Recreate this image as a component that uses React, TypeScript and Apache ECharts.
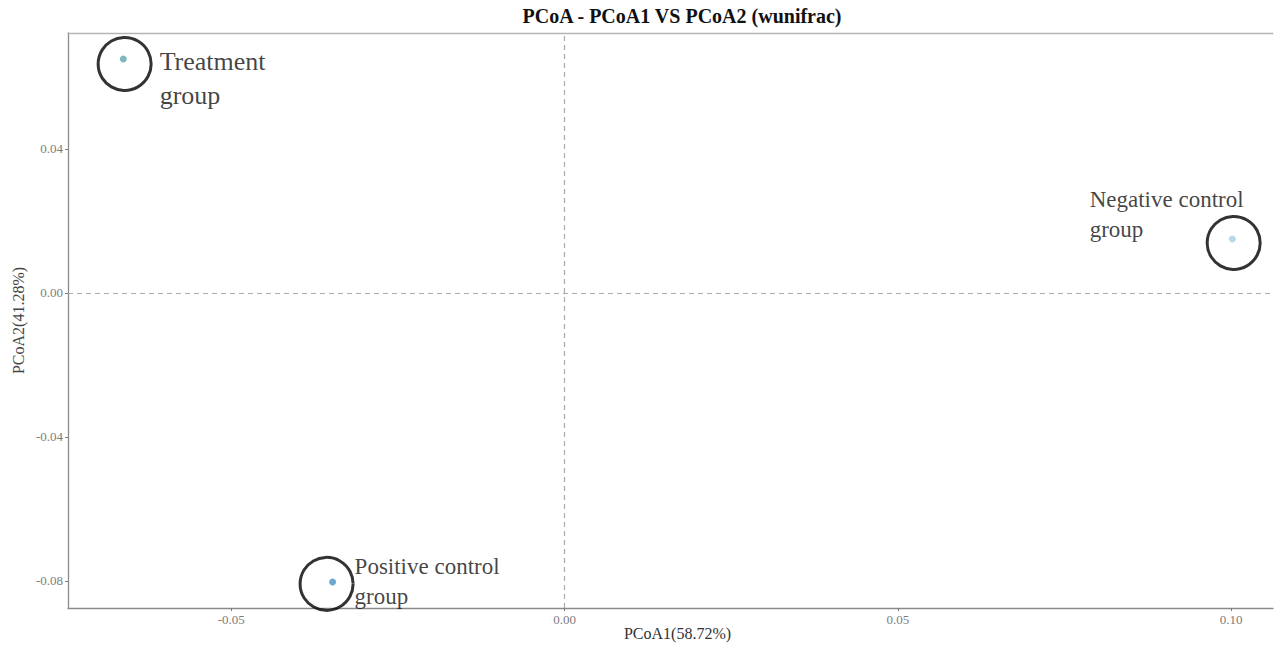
import React, { useEffect, useRef } from "react";
import * as echarts from "echarts";

const titleText = "PCoA - PCoA1 VS PCoA2 (wunifrac)";
const xName = "PCoA1(58.72%)";
const yName = "PCoA2(41.28%)";
const groupNames = ["Treatment", "Negative control", "Positive control"];
const groupColors = ["#5ea6a9", "#a7cfe2", "#4a92c4"];
const pc1 = [-0.0662, 0.1002, -0.0348];
const pc2 = [0.065, 0.015, -0.0803];
const ringX = [-0.066, 0.1004, -0.0357];
const ringY = [0.0636, 0.0139, -0.0808];
const labelTexts = ["Treatment\ngroup", "Negative control\ngroup", "Positive control\ngroup"];
const xTicks = [-0.05, 0, 0.05, 0.1];
const yTicks = [-0.08, -0.04, 0, 0.04];

const SERIF = "'Liberation Serif', 'Times New Roman', serif";

export default function App() {
  const ref = useRef<HTMLDivElement>(null);
  useEffect(() => {
    document.body.style.margin = "0";
    const chart = echarts.init(ref.current!, null, { renderer: "svg" });
    const labelStyles = [
      { fontSize: 26, lineHeight: 34, distance: 7, offset: [0, 15] },
      { fontSize: 23, lineHeight: 30, distance: 5, offset: [-177, -28] },
      { fontSize: 23, lineHeight: 30, distance: 0, offset: [0, -2] },
    ];
    chart.setOption({
      animation: false,
      title: {
        text: titleText,
        left: 677,
        top: 1,
        textAlign: "center",
        textStyle: { fontFamily: SERIF, fontWeight: "bold", fontSize: 20, color: "#111" },
      },
      grid: { left: 68, right: 1, top: 33, bottom: 37, outerBoundsMode: "none", containLabel: false },
      xAxis: [
        {
          type: "value",
          min: -0.0745,
          max: 0.1063,
          name: xName,
          nameLocation: "middle",
          nameGap: 17,
          nameMoveOverlap: false,
          nameTextStyle: { fontFamily: SERIF, fontSize: 16, lineHeight: 16, color: "#333", padding: [0, 0, 0, 14] },
          axisLine: { show: true, onZero: false, lineStyle: { color: "#8a8a8a", width: 1.3 } },
          axisTick: { show: true, length: 3, customValues: xTicks, lineStyle: { color: "#777" } },
          axisLabel: {
            customValues: xTicks,
            formatter: (v: number) => v.toFixed(2),
            fontFamily: SERIF,
            fontSize: 13,
            color: "#7d7d7d",
            margin: 5,
          },
          splitLine: { show: false },
        },
        {
          type: "value",
          position: "top",
          min: -0.0745,
          max: 0.1063,
          axisLine: { show: true, onZero: false, lineStyle: { color: "#b5b5b5", width: 1.3 } },
          axisTick: { show: false },
          axisLabel: { show: false },
          splitLine: { show: false },
        },
      ],
      yAxis: {
        type: "value",
        min: -0.0875,
        max: 0.0722,
        name: yName,
        nameLocation: "middle",
        nameGap: 42,
        nameMoveOverlap: false,
        nameTextStyle: { fontFamily: SERIF, fontSize: 16, color: "#444" },
        axisLine: { show: true, onZero: false, lineStyle: { color: "#8a8a8a", width: 1.3 } },
        axisTick: { show: true, length: 3, customValues: yTicks, lineStyle: { color: "#777" } },
        axisLabel: {
          customValues: yTicks,
          formatter: (v: number) => v.toFixed(2),
          fontFamily: SERIF,
          fontSize: 13,
          color: "#7d7d7d",
          margin: 5,
        },
        splitLine: { show: false },
      },
      series: [
        {
          type: "scatter",
          symbolSize: 7,
          data: pc1.map((x, i) => ({
            value: [x, pc2[i]],
            name: groupNames[i],
            itemStyle: { color: groupColors[i] },
          })),
          markLine: {
            silent: true,
            symbol: "none",
            label: { show: false },
            lineStyle: { color: "#aaaaaa", type: [5, 4], width: 1.2 },
            data: [{ xAxis: 0 }, { yAxis: 0 }],
          },
          z: 3,
        },
        {
          type: "scatter",
          symbol: "circle",
          symbolSize: 53,
          silent: true,
          itemStyle: { color: "rgba(0,0,0,0)", borderColor: "#000", borderWidth: 3 },
          data: ringX.map((x, i) => ({
            value: [x, ringY[i]],
            label: {
              show: true,
              position: "right",
              formatter: labelTexts[i],
              fontFamily: SERIF,
              color: "#111",
              align: "left",
              ...labelStyles[i],
            },
          })),
          z: 4,
        },
      ],
    });
    return () => chart.dispose();
  }, []);
  return <div ref={ref} style={{ width: 1274, height: 645 }} />;
}
